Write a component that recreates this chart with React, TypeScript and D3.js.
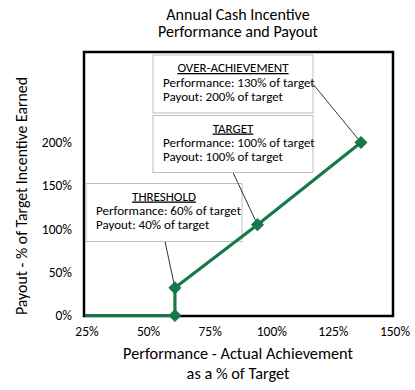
import * as d3 from "d3";

// chart data (percent)
const performance = [25, 61.5, 61.5, 95, 137];
const payout = [0, 0, 32, 105, 200];
const xTicks = [25, 50, 75, 100, 125, 150];
const yTicks = [0, 50, 100, 150, 200];

const titleLines = ["Annual Cash Incentive", "Performance and Payout"];
const xTitleLines = ["Performance - Actual Achievement", "as a % of Target"];
const yTitle = "Payout - % of Target Incentive Earned";

const calloutHeads = ["THRESHOLD", "TARGET", "OVER-ACHIEVEMENT"];
const calloutPerf = ["Performance: 60% of target", "Performance: 100% of target", "Performance: 130% of target"];
const calloutPay = ["Payout: 40% of target", "Payout: 100% of target", "Payout: 200% of target"];
const calloutPoint = [2, 3, 4];

const font = "Carlito, Calibri, Lato, sans-serif";
const green = "#17784a";

export default function App() {
  const width = 415;
  const height = 390;
  const box = { left: 84, right: 393, top: 52, bottom: 316 };

  const x = d3.scaleLinear().domain([25, 150]).range([85, 393]);
  const y = d3.scaleLinear().domain([0, 200]).range([315.5, 142.5]);

  const line = d3
    .line<number>()
    .x((d, i) => x(performance[i]))
    .y((d, i) => y(payout[i]));

  // callout boxes, with where the leader line leaves them
  const boxes = [
    { x: 86, y: 183.5, w: 156, h: 58, ax: 165, ay: 241.5 },
    { x: 153, y: 115.5, w: 160, h: 57, ax: 233, ay: 172.5 },
    { x: 153, y: 55, w: 160, h: 58, ax: 313, ay: 84 },
  ];

  const diamond = d3.symbol().type(d3.symbolDiamond2).size(110)();

  return (
    <svg width={width} height={height} style={{ position: "absolute", left: 0, top: 0 }} fontFamily={font}>
      <rect width={width} height={height} fill="#fff" />
      {titleLines.map((t, i) => (
        <text key={t} x={238} y={19.5 + i * 17} textAnchor="middle" fontSize={16} fill="#000">
          {t}
        </text>
      ))}

      <rect
        x={box.left}
        y={box.top}
        width={box.right - box.left}
        height={box.bottom - box.top}
        fill="none"
        stroke="#000"
        strokeWidth={2.5}
      />

      {yTicks.map((t) => (
        <text key={t} x={72} y={y(t) + 4.5} textAnchor="end" fontSize={13.5} fill="#000">
          {t}%
        </text>
      ))}
      {xTicks.map((t) => (
        <text key={t} x={x(t) + 2} y={336} textAnchor="middle" fontSize={13.5} fill="#000">
          {t}%
        </text>
      ))}

      {xTitleLines.map((t, i) => (
        <text key={t} x={238} y={359 + i * 20} textAnchor="middle" fontSize={16.3} fill="#000">
          {t}
        </text>
      ))}
      <text
        transform={`translate(27, 196) rotate(-90)`}
        textAnchor="middle"
        fontSize={15.8}
        fill="#000"
      >
        {yTitle}
      </text>

      {boxes.map((b, i) => {
        const p = calloutPoint[i];
        return (
          <g key={calloutHeads[i]}>
            <line
              x1={b.ax}
              y1={b.ay}
              x2={x(performance[p])}
              y2={y(payout[p])}
              stroke="#000"
              strokeWidth={0.8}
            />
            <rect x={b.x} y={b.y} width={b.w} height={b.h} fill="#fff" stroke="#bfbfbf" strokeWidth={1} />
            <text
              x={b.x + b.w / 2}
              y={b.y + 17}
              textAnchor="middle"
              fontSize={13}
              textDecoration="underline"
              fill="#000"
            >
              {calloutHeads[i]}
            </text>
            <text x={b.x + 10} y={b.y + 31.5} fontSize={13} fill="#000">
              {calloutPerf[i]}
            </text>
            <text x={b.x + 10} y={b.y + 45.5} fontSize={13} fill="#000">
              {calloutPay[i]}
            </text>
          </g>
        );
      })}

      <path d={line(payout) ?? ""} fill="none" stroke={green} strokeWidth={3.2} strokeLinejoin="round" />
      {performance.slice(1).map((p, i) => (
        <path
          key={i}
          d={diamond ?? ""}
          transform={`translate(${x(p)}, ${y(payout[i + 1])})`}
          fill={green}
        />
      ))}
    </svg>
  );
}
